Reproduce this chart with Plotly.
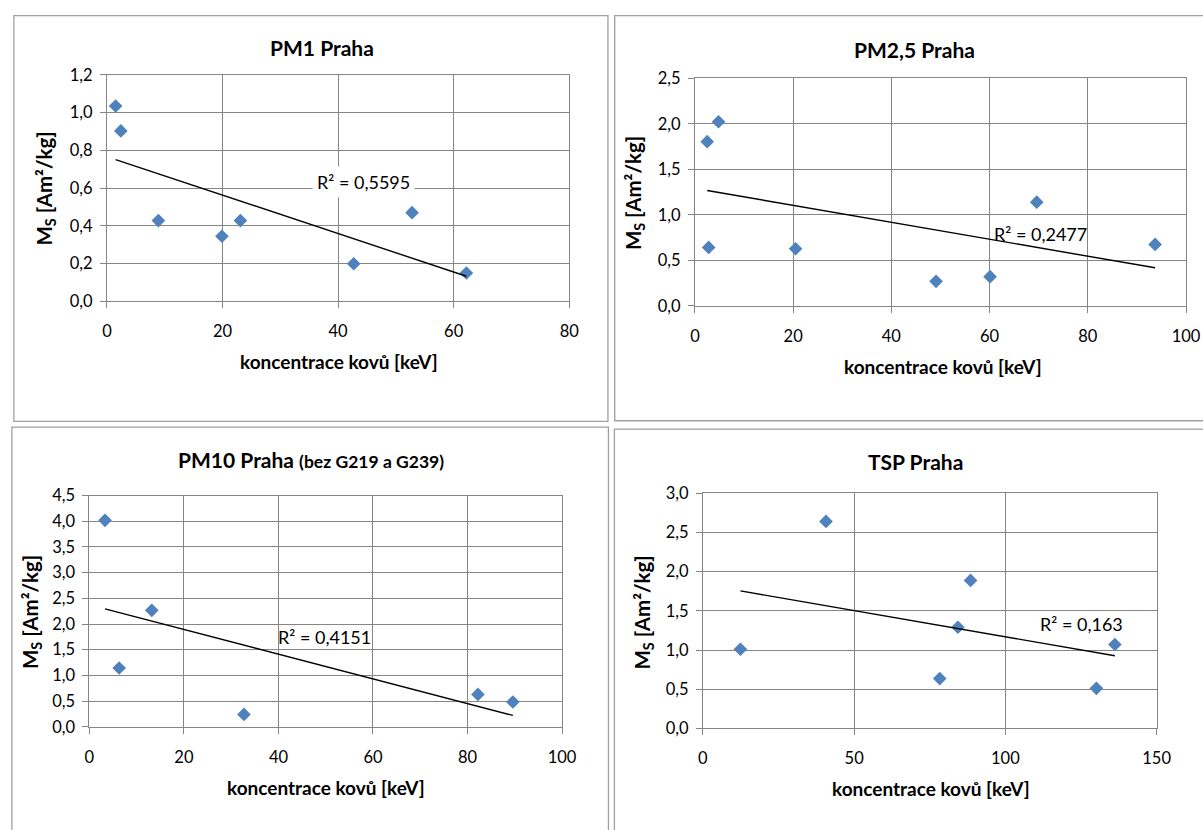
import numpy as np
import plotly.graph_objects as go

W, H = 1220, 840
# small correction from target pixel positions to figure pixels
AX, BX = 0.986, 2.1
AY, BY = 0.9775, 9.0

# ---- data -------------------------------------------------------------
pm1_x = [1.5, 2.4, 8.9, 19.9, 23.1, 42.7, 52.8, 62.2]
pm1_y = [1.035, 0.903, 0.428, 0.345, 0.428, 0.199, 0.470, 0.150]

pm25_x = [2.5, 4.8, 2.8, 20.5, 49.1, 60.1, 69.6, 93.7]
pm25_y = [1.803, 2.022, 0.642, 0.628, 0.270, 0.321, 1.139, 0.675]

pm10_x = [3.3, 6.3, 13.2, 32.7, 82.2, 89.6]
pm10_y = [4.019, 1.143, 2.266, 0.240, 0.630, 0.481]

tsp_x = [12.4, 40.7, 78.3, 84.3, 88.5, 130.1, 136.2]
tsp_y = [1.010, 2.642, 0.635, 1.291, 1.888, 0.511, 1.070]

titles = [
    "PM1 Praha",
    "PM2,5 Praha",
    "PM10 Praha <span style='font-size:17.5px'>(bez G219 a G239)</span>",
    "TSP Praha",
]
r2_labels = ["R² = 0,5595", "R² = 0,2477", "R² = 0,4151", "R² = 0,163"]
x_title = "koncentrace kovů [keV]"
y_title = "M<sub>S</sub> [Am²/kg]"

x_ranges = [(0, 80, 20), (0, 100, 20), (0, 100, 20), (0, 150, 50)]
y_ranges = [(0, 1.2, 0.2), (0, 2.5, 0.5), (0, 4.5, 0.5), (0, 3.0, 0.5)]

series = [(pm1_x, pm1_y), (pm25_x, pm25_y), (pm10_x, pm10_y), (tsp_x, tsp_y)]

# ---- layout geometry (pixels) ----------------------------------------
plot_boxes = [  # x0, x1, y_top, y_bottom
    (104.3, 567.7, 74.0, 300.7),
    (693.7, 1186.0, 77.3, 305.3),
    (86.7, 560.5, 495.3, 726.7),
    (701.7, 1156.5, 493.0, 728.3),
]
frames = [  # chart borders
    (11, 606.5, 14.7, 421.0),
    (613.3, 1240, 14.7, 420.3),
    (9, 607, 426.7, 870),
    (613, 1240, 428.7, 870),
]
title_pos = [(320, 47), (914, 49), (309, 459), (915, 461)]
xtitle_pos = [(337, 361), (942, 366), (324, 788), (930, 789)]
ytitle_pos = [(43, 188), (633, 192), (28, 612), (642, 612)]
r2_pos = [(361, 181), (1040, 233), (322, 637), (1081, 624)]
r2_bg = [True, False, False, False]


def px(x):
    return ((x - BX) / AX) / W


def py(y):
    return 1 - ((y - BY) / AY) / H


GRID = "#858585"
BLUE = "#4f81bd"
FONT = "Lato"

fig = go.Figure()
annotations = []
shapes = []

for i, ((xs, ys), (x0, x1, yt, yb)) in enumerate(zip(series, plot_boxes)):
    n = "" if i == 0 else str(i + 1)
    xa, ya = "x" + n, "y" + n

    fig.add_trace(go.Scatter(
        x=xs, y=ys, mode="markers", xaxis=xa, yaxis=ya,
        marker=dict(symbol="diamond", size=10.5, color=BLUE,
                    line=dict(width=0)),
        showlegend=False, hoverinfo="x+y", cliponaxis=False))

    # linear trendline over the data span
    slope, icpt = np.polyfit(xs, ys, 1)
    tx = np.array([min(xs), max(xs)])
    fig.add_trace(go.Scatter(
        x=tx, y=slope * tx + icpt, mode="lines", xaxis=xa, yaxis=ya,
        line=dict(color="black", width=1.4),
        showlegend=False, hoverinfo="skip"))

    xr, yr = x_ranges[i], y_ranges[i]
    common = dict(showgrid=True, gridcolor=GRID, gridwidth=1,
                  showline=True, linecolor=GRID, linewidth=1, mirror=True,
                  ticks="outside", ticklen=6, tickcolor=GRID, tickwidth=1,
                  zeroline=False, fixedrange=True,
                  tickfont=dict(family=FONT, size=16.5, color="black"))
    fig.layout["xaxis" + n] = dict(
        common, domain=[px(x0), min(px(x1), 1)], range=[xr[0], xr[1]],
        tick0=0, dtick=xr[2], anchor=ya, ticklabelstandoff=9)
    fig.layout["yaxis" + n] = dict(
        common, domain=[py(yb), py(yt)], range=[yr[0], yr[1]],
        tick0=0, dtick=yr[2], tickformat=".1f", anchor=xa,
        ticklabelstandoff=4)

    fx0, fx1, fy0, fy1 = frames[i]
    shapes.append(dict(type="rect", xref="paper", yref="paper",
                       x0=px(fx0), x1=px(fx1), y0=py(fy1), y1=py(fy0),
                       line=dict(color="#a0a0a0", width=1.3),
                       layer="below"))

    tx_, ty_ = title_pos[i]
    annotations.append(dict(text="<b>" + titles[i] + "</b>", x=px(tx_), y=py(ty_),
                            xref="paper", yref="paper", showarrow=False,
                            xanchor="center", yanchor="middle",
                            font=dict(family=FONT, size=21, color="black")))
    ax_, ay_ = xtitle_pos[i]
    annotations.append(dict(text="<b>" + x_title + "</b>", x=px(ax_), y=py(ay_),
                            xref="paper", yref="paper", showarrow=False,
                            xanchor="center", yanchor="middle",
                            font=dict(family=FONT, size=19, color="black")))
    yx_, yy_ = ytitle_pos[i]
    annotations.append(dict(text="<b>" + y_title + "</b>", x=px(yx_), y=py(yy_),
                            xref="paper", yref="paper", showarrow=False,
                            xanchor="center", yanchor="middle", textangle=-90,
                            font=dict(family=FONT, size=20.5, color="black")))
    rx_, ry_ = r2_pos[i]
    r2 = dict(text=r2_labels[i], x=px(rx_), y=py(ry_),
              xref="paper", yref="paper", showarrow=False,
              xanchor="center", yanchor="middle",
              font=dict(family=FONT, size=18, color="black"))
    if r2_bg[i]:
        r2.update(bgcolor="white", borderpad=4)
    annotations.append(r2)

fig.update_layout(
    width=W, height=H,
    margin=dict(l=0, r=0, t=0, b=0),
    paper_bgcolor="white", plot_bgcolor="white",
    separators=", ",
    annotations=annotations, shapes=shapes,
    font=dict(family=FONT, color="black"),
)

fig.write_html("out.html")
